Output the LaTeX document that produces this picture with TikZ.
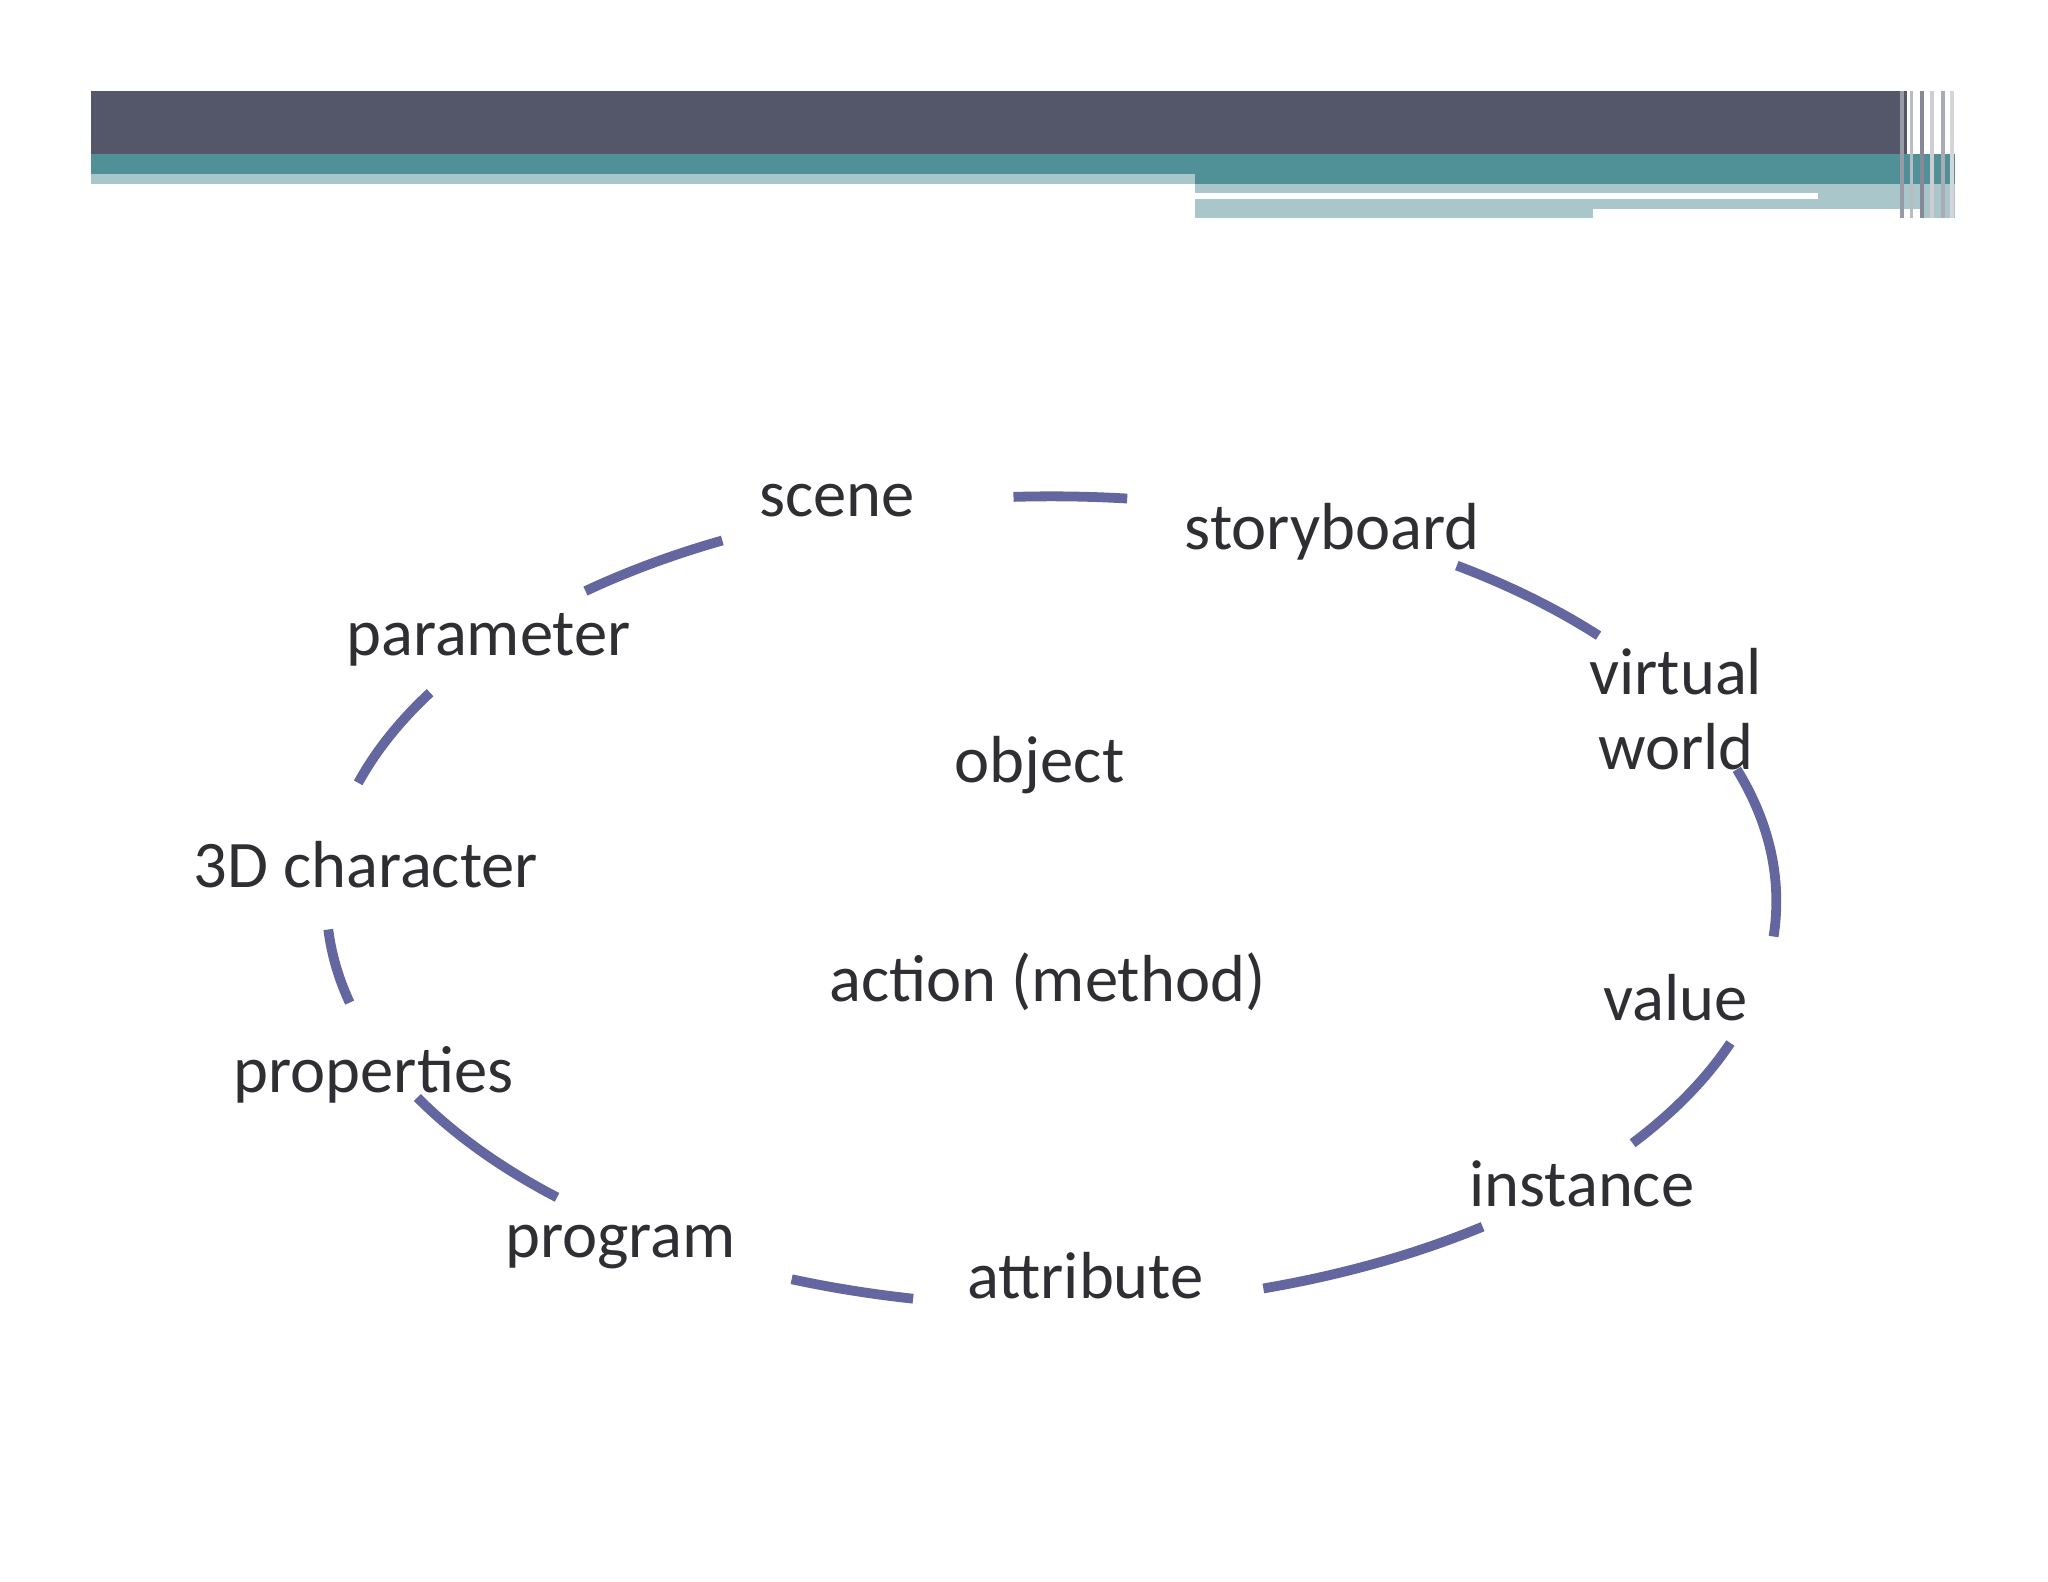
\documentclass[tikz,border=0pt]{standalone}
\usepackage{fontspec}
\usetikzlibrary{calc}
\setmainfont{Carlito}
\definecolor{arcc}{HTML}{6466A0}
\definecolor{dark}{HTML}{545669}
\definecolor{teal}{HTML}{4F9196}
\definecolor{lteal}{HTML}{A9C7CA}
\definecolor{txt}{HTML}{2E2E33}
\begin{document}
\begin{tikzpicture}[x=0.02cm,y=-0.02cm,
  lbl/.style={font=\fontsize{29}{33}\selectfont,text=txt,align=center,inner sep=0pt},
  seg/.style={draw=arcc,line width=0.15cm}]
\useasboundingbox[fill=white] (0,0) rectangle (1568,1211);
% header
\fill[dark] (70,70) rectangle (1460,118);
\fill[teal] (70,118) rectangle (1497,141);
\fill[lteal] (70,133) rectangle (915,141);
\fill[lteal] (915,141) rectangle (1497,167);
\fill[white] (915,148) rectangle (1392,152);
\fill[white] (1220,160) rectangle (1470,167);
\foreach \x/\c in {1455/dark!60,1462/dark!40,1470/dark!70,1478/dark!30,1486/dark!50,1493/dark!25}
  \fill[\c] (\x,70) rectangle (\x+3,167);
% arcs
\coordinate (c) at (805,690);
\foreach \a/\b in {84/93,41/56,-5/19,-36.7/-20.5,-73/-53.5,-111/-101,-151/-133,-176/-165.5,149/163,117/130}
  \draw[seg] ($(c)+(-\a:555 and 310)$) arc[start angle=-\a,end angle=-\b,x radius=555,y radius=310];
% labels
\node[lbl] (scene) at (641,383) {scene};
\node[lbl] (story) at (1020,407) {storyboard};
\node[lbl] (vw) at (1283,543) {virtual\\world};
\node[lbl] (obj) at (796,586) {object};
\node[lbl] (char) at (280,662) {3D character};
\node[lbl] (act) at (802,752) {action (method)};
\node[lbl] (val) at (1283,764) {value};
\node[lbl] (prop) at (286,823) {properties};
\node[lbl] (inst) at (1211,906) {instance};
\node[lbl] (prog) at (475,955) {program};
\node[lbl] (attr) at (831,977) {attribute};
\node[lbl] (param) at (374,490) {parameter};
\end{tikzpicture}
\end{document}
